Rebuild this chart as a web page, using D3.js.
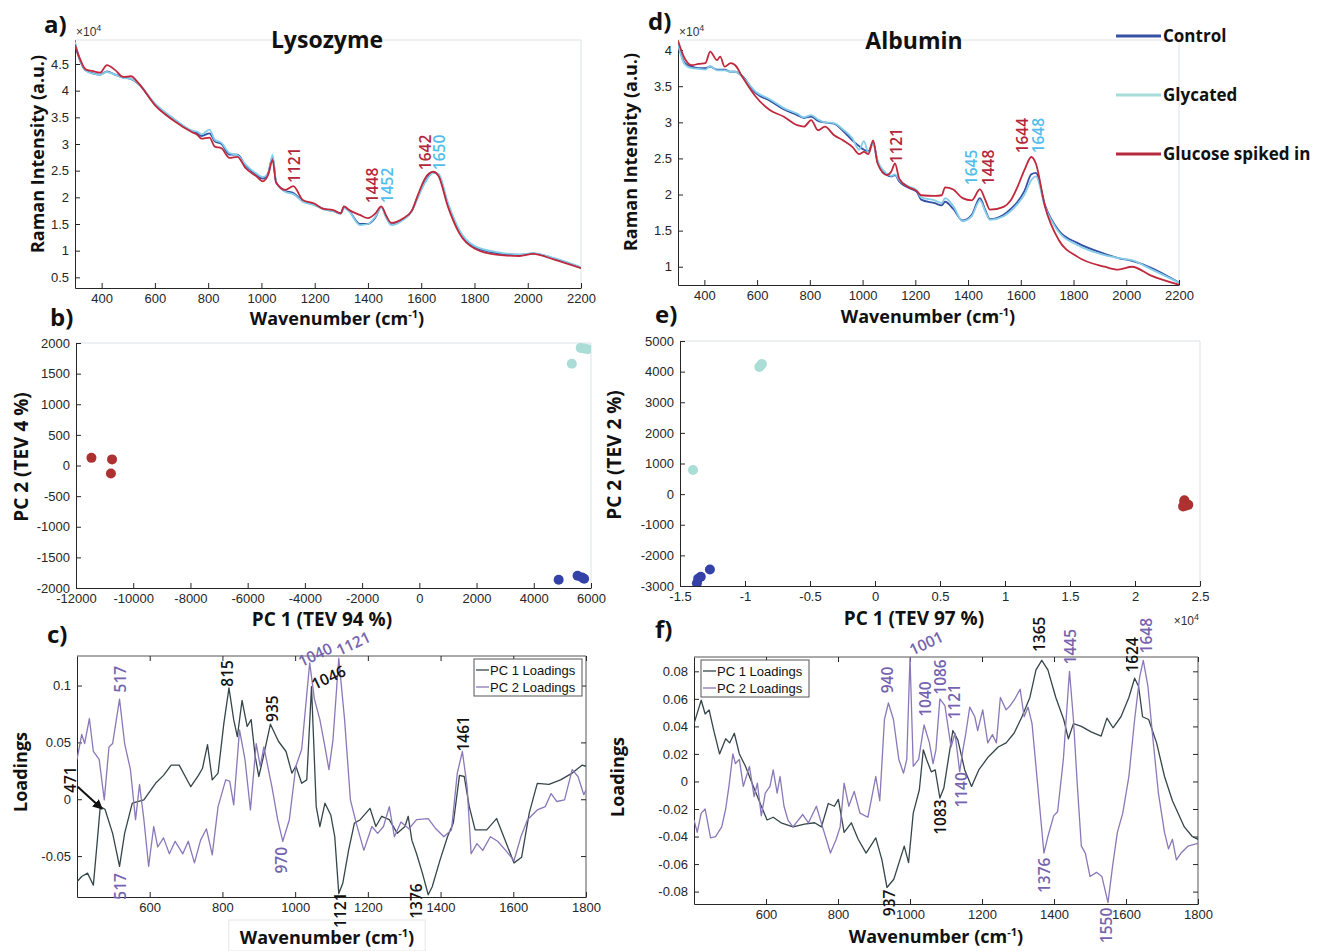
<!DOCTYPE html>
<html>
<head>
<meta charset="utf-8">
<script src="https://cdn.jsdelivr.net/npm/d3@7"></script>
<style>
body { margin: 0; background: #fff; }
svg { display: block; }
.tick text { font-family: "Liberation Sans", Arial, sans-serif; font-size: 13px; fill: #262626; }
.domain, .tick line { stroke: #262626; }
.lbl { font-family: "Open Sans", sans-serif; font-weight: bold; fill: #111; }
.peak { font-family: "Open Sans", sans-serif; font-size: 15.5px; font-weight: 600; }
.leg { font-family: "Liberation Sans", Arial, sans-serif; font-size: 13px; fill: #111; }
</style>
</head>
<body>
<div id="chart"></div>
<script>
// ---------- data ----------
var groups = ["Control", "Glycated", "Glucose spiked in"];

// a) Lysozyme spectra (x1e4)
var lysoWn = [300, 320, 340, 365, 395, 420, 450, 480, 510, 540, 600, 670, 740, 760, 775, 805, 825, 850, 880, 910,
    940, 980, 1005, 1025, 1042, 1055, 1090, 1120, 1155, 1200, 1230, 1270, 1298, 1310, 1330, 1370, 1400, 1428, 1450, 1470,
    1488, 1530, 1565, 1585, 1615, 1645, 1665, 1700, 1745, 1800, 1890, 1970, 2020, 2100, 2200];
var lysoControl = [4.86, 4.55, 4.38, 4.33, 4.30, 4.36, 4.30, 4.25, 4.22, 4.12, 3.74, 3.47, 3.24, 3.20, 3.15, 3.20, 3.05, 3.00, 2.80, 2.80,
    2.60, 2.43, 2.35, 2.45, 2.76, 2.28, 2.12, 2.08, 1.93, 1.86, 1.79, 1.74, 1.70, 1.82, 1.74, 1.50, 1.50, 1.62, 1.82, 1.62,
    1.49, 1.58, 1.75, 1.98, 2.30, 2.47, 2.42, 1.87, 1.35, 1.07, 0.95, 0.92, 0.95, 0.85, 0.68];
var lysoGlycated = [4.92, 4.56, 4.38, 4.32, 4.30, 4.35, 4.30, 4.24, 4.22, 4.12, 3.76, 3.48, 3.25, 3.23, 3.18, 3.27, 3.08, 3.02, 2.83, 2.79,
    2.62, 2.45, 2.38, 2.43, 2.80, 2.30, 2.10, 2.06, 1.92, 1.85, 1.78, 1.74, 1.69, 1.80, 1.73, 1.48, 1.50, 1.64, 1.81, 1.60,
    1.48, 1.57, 1.74, 1.97, 2.28, 2.46, 2.44, 1.90, 1.37, 1.09, 0.97, 0.93, 0.95, 0.86, 0.69];
var lysoSpiked = [4.86, 4.58, 4.40, 4.37, 4.34, 4.48, 4.39, 4.26, 4.27, 4.13, 3.73, 3.44, 3.22, 3.17, 3.10, 3.12, 2.95, 2.92, 2.74, 2.76,
    2.55, 2.40, 2.30, 2.42, 2.70, 2.28, 2.14, 2.21, 1.95, 1.88, 1.79, 1.76, 1.70, 1.83, 1.76, 1.67, 1.61, 1.70, 1.83, 1.64,
    1.52, 1.60, 1.75, 2.01, 2.36, 2.48, 2.40, 1.83, 1.31, 1.04, 0.92, 0.90, 0.94, 0.83, 0.67];

// d) Albumin spectra (x1e4)
var albWn = [300, 326, 352, 378, 404, 422, 448, 460, 477, 500, 517, 544, 596, 648, 700, 752, 778, 805, 831, 857,
    892, 926, 961, 987, 1005, 1022, 1040, 1057, 1092, 1109, 1123, 1139, 1170, 1205, 1222, 1274, 1300, 1313, 1344, 1379,
    1414, 1445, 1466, 1483, 1535, 1562, 1588, 1614, 1640, 1657, 1692, 1744, 1814, 1918, 1970, 2022, 2092, 2200];
var albControl = [4.10, 3.82, 3.77, 3.75, 3.75, 3.77, 3.73, 3.73, 3.73, 3.70, 3.70, 3.64, 3.40, 3.30, 3.18, 3.10, 3.06, 3.08, 3.02, 3.00,
    2.98, 2.88, 2.75, 2.67, 2.62, 2.60, 2.72, 2.45, 2.27, 2.25, 2.27, 2.18, 2.10, 2.04, 1.93, 1.88, 1.85, 1.90, 1.80, 1.64,
    1.72, 1.95, 1.78, 1.66, 1.72, 1.80, 1.90, 2.05, 2.28, 2.30, 1.85, 1.50, 1.33, 1.18, 1.12, 1.08, 0.99, 0.78];
var albGlycated = [4.08, 3.80, 3.75, 3.74, 3.73, 3.78, 3.72, 3.72, 3.72, 3.70, 3.70, 3.63, 3.42, 3.32, 3.20, 3.12, 3.07, 3.10, 3.04, 3.00,
    2.99, 2.90, 2.78, 2.62, 2.74, 2.58, 2.70, 2.47, 2.29, 2.26, 2.28, 2.20, 2.12, 2.06, 1.96, 1.92, 1.88, 1.95, 1.84, 1.63,
    1.70, 1.92, 1.76, 1.65, 1.70, 1.77, 1.87, 2.00, 2.20, 2.25, 1.83, 1.48, 1.30, 1.16, 1.12, 1.09, 0.97, 0.78];
var albSpiked = [4.13, 3.88, 3.79, 3.81, 3.82, 3.98, 3.86, 3.91, 3.77, 3.82, 3.79, 3.63, 3.35, 3.17, 3.08, 2.96, 2.94, 3.03, 2.89, 2.94,
    2.82, 2.75, 2.66, 2.56, 2.59, 2.56, 2.75, 2.43, 2.27, 2.32, 2.43, 2.22, 2.11, 2.05, 1.99, 1.98, 1.99, 2.10, 2.07, 1.95,
    1.92, 2.07, 1.92, 1.79, 1.83, 1.92, 2.11, 2.34, 2.52, 2.43, 1.83, 1.37, 1.14, 1.00, 0.96, 1.00, 0.88, 0.75];

// b) Lysozyme PCA scores [PC1, PC2]
var lysoScoresControl = [[4870, -1865], [5530, -1800], [5690, -1830], [5760, -1850]];
var lysoScoresGlycated = [[5330, 1660], [5640, 1920], [5760, 1910], [5880, 1900]];
var lysoScoresSpiked = [[-11460, 125], [-10740, 100], [-10780, -130]];

// e) Albumin PCA scores [PC1 (x1e4), PC2]
var albScoresControl = [[-1.27, -2460], [-1.34, -2700], [-1.36, -2760], [-1.37, -2910]];
var albScoresGlycated = [[-1.40, 790], [-0.89, 4150], [-0.87, 4250], [-0.88, 4200]];
var albScoresSpiked = [[2.38, -200], [2.38, -250], [2.39, -380], [2.41, -350], [2.37, -400]];

// c) Lysozyme loadings [wavenumber, loading]
var lysoPc1 = [[400, -0.0726], [413, -0.068], [429, -0.065], [445, -0.0756], [456, -0.036], [464, -0.0065], [477, -0.0088],
    [498, -0.030], [517, -0.059], [531, -0.030], [552, -0.0035], [584, -0.0006], [616, 0.014], [638, 0.021], [659, 0.030],
    [681, 0.030], [713, 0.011], [734, 0.021], [745, 0.027], [759, 0.048], [772, 0.017], [788, 0.023], [804, 0.067],
    [818, 0.098], [831, 0.070], [841, 0.055], [854, 0.087], [868, 0.064], [879, 0.070], [890, 0.038], [900, 0.020],
    [911, 0.035], [932, 0.066], [954, 0.051], [975, 0.042], [991, 0.023], [1002, 0.029], [1018, 0.014], [1032, 0.017],
    [1045, 0.099], [1058, -0.0065], [1068, -0.024], [1082, -0.0035], [1098, -0.0138], [1109, -0.033], [1120, -0.083],
    [1131, -0.074], [1147, -0.045], [1163, -0.021], [1179, -0.018], [1206, -0.008], [1222, -0.024], [1238, -0.015],
    [1259, -0.018], [1281, -0.030], [1302, -0.024], [1311, -0.015], [1321, -0.036], [1334, -0.048], [1350, -0.065],
    [1366, -0.084], [1377, -0.077], [1398, -0.054], [1419, -0.033], [1435, -0.021], [1452, 0.021], [1465, 0.020],
    [1479, -0.0065], [1495, -0.027], [1527, -0.027], [1554, -0.017], [1570, -0.030], [1602, -0.056], [1623, -0.051],
    [1644, -0.012], [1666, 0.014], [1698, 0.013], [1730, 0.017], [1762, 0.023], [1789, 0.030], [1800, 0.029]];
var lysoPc2 = [[400, 0.035], [413, 0.057], [421, 0.049], [434, 0.071], [445, 0.042], [461, 0.035], [475, -0.0006],
    [488, 0.046], [498, 0.049], [517, 0.088], [531, 0.049], [547, 0.026], [561, -0.018], [572, 0.013], [584, -0.018],
    [597, -0.059], [611, -0.024], [622, -0.042], [638, -0.034], [654, -0.048], [670, -0.037], [691, -0.048], [706, -0.037],
    [723, -0.056], [740, -0.036], [756, -0.026], [772, -0.049], [788, -0.0065], [809, 0.017], [820, 0.016], [831, -0.005],
    [847, 0.061], [862, 0.035], [877, -0.0094], [893, 0.049], [904, 0.029], [914, 0.046], [936, 0.011], [952, -0.018],
    [966, -0.037], [984, -0.018], [1002, 0.029], [1018, 0.044], [1040, 0.120], [1053, 0.088], [1068, 0.070], [1082, 0.046],
    [1093, 0.026], [1104, 0.052], [1120, 0.124], [1136, 0.070], [1152, -0.0006], [1168, -0.021], [1189, -0.045],
    [1211, -0.024], [1227, -0.030], [1243, -0.024], [1259, -0.0065], [1273, -0.033], [1291, -0.020], [1313, -0.026],
    [1334, -0.018], [1366, -0.017], [1387, -0.026], [1409, -0.033], [1430, -0.027], [1446, 0.023], [1460, 0.042],
    [1473, 0.011], [1484, -0.048], [1500, -0.039], [1516, -0.045], [1537, -0.033], [1557, -0.037], [1579, -0.045],
    [1602, -0.054], [1621, -0.033], [1639, -0.018], [1666, -0.0094], [1688, -0.0065], [1704, 0.005], [1720, -0.002],
    [1741, -0.0006], [1762, 0.026], [1778, 0.020], [1794, 0.004], [1800, 0.008]];

// f) Albumin loadings [wavenumber, loading]
var albPc1 = [[400, 0.042], [420, 0.059], [431, 0.049], [442, 0.052], [455, 0.037], [471, 0.020], [488, 0.031], [499, 0.028],
    [512, 0.035], [526, 0.020], [543, 0.011], [565, -0.0036], [587, -0.018], [603, -0.028], [620, -0.026], [642, -0.030],
    [675, -0.033], [707, -0.031], [735, -0.030], [754, -0.033], [773, -0.016], [790, -0.018], [801, -0.013], [817, -0.037],
    [837, -0.030], [856, -0.042], [878, -0.052], [905, -0.041], [922, -0.057], [936, -0.077], [955, -0.071], [984, -0.047],
    [996, -0.059], [1009, -0.023], [1026, -0.006], [1037, 0.023], [1046, 0.016], [1059, 0.007], [1070, 0.0084],
    [1083, -0.012], [1094, -0.0048], [1119, 0.037], [1133, 0.030], [1152, 0.0084], [1171, -0.0036], [1191, 0.0084],
    [1218, 0.018], [1245, 0.025], [1267, 0.028], [1289, 0.035], [1311, 0.047], [1333, 0.061], [1350, 0.081], [1366, 0.088],
    [1383, 0.081], [1405, 0.061], [1427, 0.045], [1440, 0.031], [1454, 0.042], [1476, 0.040], [1503, 0.036], [1531, 0.033],
    [1547, 0.046], [1564, 0.039], [1586, 0.047], [1608, 0.061], [1624, 0.075], [1635, 0.069], [1646, 0.047], [1663, 0.045],
    [1685, 0.028], [1707, 0.0036], [1729, -0.014], [1762, -0.033], [1784, -0.040], [1800, -0.042]];
var albPc2 = [[400, -0.028], [409, -0.037], [420, -0.023], [431, -0.020], [446, -0.041], [460, -0.040], [477, -0.033],
    [488, -0.020], [497, -0.0036], [508, 0.020], [515, 0.013], [526, 0.016], [537, -0.0036], [554, 0.011], [567, -0.011],
    [576, -0.0012], [587, -0.025], [598, -0.0084], [611, -0.0036], [620, 0.0084], [631, -0.0084], [639, 0.0036],
    [650, -0.018], [661, -0.028], [675, -0.033], [702, -0.024], [718, -0.030], [740, -0.018], [757, -0.033], [779, -0.052],
    [795, -0.042], [806, -0.033], [817, -0.0012], [830, -0.018], [845, -0.0072], [861, -0.023], [883, -0.026],
    [905, 0.0036], [916, -0.014], [929, 0.045], [940, 0.057], [954, 0.045], [969, 0.016], [982, 0.006], [991, 0.016],
    [1000, 0.090], [1009, 0.011], [1024, 0.016], [1039, 0.041], [1054, 0.028], [1064, 0.013], [1072, 0.023], [1083, 0.060],
    [1097, 0.055], [1114, 0.025], [1125, 0.035], [1138, 0.0072], [1147, 0.023], [1155, 0.035], [1166, 0.054], [1180, 0.047],
    [1188, 0.037], [1202, 0.052], [1216, 0.028], [1229, 0.034], [1240, 0.028], [1251, 0.061], [1267, 0.052], [1278, 0.055],
    [1289, 0.059], [1306, 0.067], [1317, 0.047], [1328, 0.054], [1339, 0.042], [1355, -0.0036], [1372, -0.052],
    [1383, -0.040], [1399, -0.025], [1410, -0.022], [1426, 0.016], [1443, 0.080], [1454, 0.045], [1465, -0.0036],
    [1476, -0.047], [1487, -0.052], [1500, -0.069], [1518, -0.066], [1533, -0.069], [1550, -0.088], [1563, -0.061],
    [1576, -0.037], [1591, -0.023], [1608, 0.0036], [1624, 0.045], [1638, 0.076], [1648, 0.088], [1661, 0.069],
    [1674, 0.033], [1690, -0.0084], [1707, -0.037], [1718, -0.049], [1729, -0.042], [1740, -0.057], [1753, -0.052],
    [1772, -0.047], [1800, -0.045]];

// peak labels: [text, wavenumber, value, series, orientation]
var lysoPeaks = [["1121", 1126, 2.27, "spiked", "up"], ["1448", 1419, 1.89, "spiked", "up"],
    ["1452", 1475, 1.89, "glycated", "up"], ["1642", 1616, 2.51, "spiked", "up"], ["1650", 1670, 2.51, "glycated", "up"]];
var albPeaks = [["1121", 1127, 2.43, "spiked", "up"], ["1645", 1415, 2.13, "glycated", "up"],
    ["1448", 1476, 2.13, "spiked", "up"], ["1644", 1605, 2.57, "spiked", "up"], ["1648", 1668, 2.57, "glycated", "up"]];
var lysoLoadPeaks = [["517", 520, 0.094, "pc2", "up"], ["517", 520, -0.065, "pc2", "down"], ["815", 815, 0.099, "pc1", "up"],
    ["935", 937, 0.068, "pc1", "up"], ["970", 964, -0.042, "pc2", "down"], ["1121", 1125, -0.082, "pc1", "down"],
    ["1376", 1333, -0.074, "pc1", "down"], ["1461", 1462, 0.042, "pc1", "up"], ["471", 381, 0.0056, "pc1", "up"],
    ["1040", 1055, 0.127, "pc2", "slant"], ["1121", 1160, 0.137, "pc2", "slant"], ["1046", 1092, 0.107, "pc1", "slant"]];
var albLoadPeaks = [["940", 939, 0.064, "pc2", "up"], ["1040", 1042, 0.047, "pc2", "up"], ["1086", 1086, 0.063, "pc2", "up"],
    ["1121", 1124, 0.045, "pc2", "up"], ["1140", 1142, -0.019, "pc2", "up"], ["1083", 1086, -0.0387, "pc1", "up"],
    ["937", 942, -0.0785, "pc1", "down"], ["1365", 1361, 0.094, "pc1", "up"], ["1445", 1446, 0.085, "pc2", "up"],
    ["1624", 1617, 0.079, "pc1", "up"], ["1648", 1658, 0.093, "pc2", "up"], ["1376", 1375, -0.0553, "pc2", "down"],
    ["1550", 1547, -0.0917, "pc2", "down"], ["1001", 1045, 0.1004, "pc2", "slant"]];
var lysoArrow = [[402, 0.011], [469, -0.0085]];

// ticks
var specXTicks = d3.range(400, 2201, 200);
var lysoYTicks = [0.5, 1, 1.5, 2, 2.5, 3, 3.5, 4, 4.5];
var albYTicks = [1, 1.5, 2, 2.5, 3, 3.5, 4];
var lysoPcaXTicks = [-12000, -10000, -8000, -6000, -4000, -2000, 0, 2000, 4000, 6000];
var lysoPcaYTicks = [-2000, -1500, -1000, -500, 0, 500, 1000, 1500, 2000];
var albPcaXTicks = [-1.5, -1, -0.5, 0, 0.5, 1, 1.5, 2, 2.5];
var albPcaYTicks = [-3000, -2000, -1000, 0, 1000, 2000, 3000, 4000, 5000];
var loadXTicks = [600, 800, 1000, 1200, 1400, 1600, 1800];
var lysoLoadYTicks = [-0.05, 0, 0.05, 0.1];
var albLoadYTicks = [-0.08, -0.06, -0.04, -0.02, 0, 0.02, 0.04, 0.06, 0.08];

// ---------- drawing ----------
var lineColor = { control: "#3550a5", glycated: "#84cde9", spiked: "#c0283c", pc1: "#34464a", pc2: "#8a78b9" };
var dotColor = { control: "#3442a8", glycated: "#a9ddd5", spiked: "#ad3130" };
var textColor = { spiked: "#b3263a", glycated: "#52bdea", pc1: "#111111", pc2: "#7663b0" };
var legendColor = ["#3550a5", "#a6dcd8", "#b52b3c"];

var svg = d3.select("#chart").append("svg")
    .attr("width", 1320)
    .attr("height", 951);

var defs = svg.append("defs");
var clipId = 0;

function panel(o) {
    var x = d3.scaleLinear().domain(o.xDomain).range([o.left, o.right]);
    var y = d3.scaleLinear().domain(o.yDomain).range([o.bottom, o.top]);
    var g = svg.append("g");
    var fmt = function (d) { return String(d); };

    // box (top + right)
    g.append("path")
        .attr("d", "M" + o.left + "," + o.top + "H" + o.right + "V" + o.bottom)
        .attr("fill", "none")
        .attr("stroke", o.dark ? "#555" : "#dde2e8");

    if (o.dark) {
        g.append("g").attr("transform", "translate(0," + o.top + ")")
            .call(d3.axisTop(x).tickValues(o.xTicks).tickFormat("").tickSizeInner(-5).tickSizeOuter(0))
            .select(".domain").remove();
        g.append("g").attr("transform", "translate(" + o.right + ",0)")
            .call(d3.axisRight(y).tickValues(o.yTicks).tickFormat("").tickSizeInner(-5).tickSizeOuter(0))
            .select(".domain").remove();
    }

    g.append("g").attr("transform", "translate(0," + o.bottom + ")")
        .call(d3.axisBottom(x).tickValues(o.xTicks).tickFormat(fmt).tickSizeInner(-5).tickSizeOuter(0).tickPadding(6));
    g.append("g").attr("transform", "translate(" + o.left + ",0)")
        .call(d3.axisLeft(y).tickValues(o.yTicks).tickFormat(fmt).tickSizeInner(-5).tickSizeOuter(0).tickPadding(6));

    clipId++;
    defs.append("clipPath").attr("id", "clip" + clipId)
        .append("rect")
        .attr("x", o.left).attr("y", o.top)
        .attr("width", o.right - o.left).attr("height", o.bottom - o.top);

    var plot = g.append("g").attr("clip-path", "url(#clip" + clipId + ")");
    return { g: g, plot: plot, x: x, y: y };
}

function spectrum(p, wn, vals, key) {
    var line = d3.line()
        .x(function (d, i) { return p.x(wn[i]); })
        .y(function (d) { return p.y(d); })
        .curve(d3.curveMonotoneX);
    p.plot.append("path")
        .attr("d", line(vals))
        .attr("fill", "none")
        .attr("stroke", lineColor[key])
        .attr("stroke-width", 1.8);
}

function loading(p, pts, key) {
    var line = d3.line()
        .x(function (d) { return p.x(d[0]); })
        .y(function (d) { return p.y(d[1]); });
    p.plot.append("path")
        .attr("d", line(pts))
        .attr("fill", "none")
        .attr("stroke", lineColor[key])
        .attr("stroke-width", 1.3)
        .attr("stroke-linejoin", "round");
}

function dots(p, pts, key) {
    p.plot.selectAll(null)
        .data(pts)
        .enter().append("circle")
        .attr("cx", function (d) { return p.x(d[0]); })
        .attr("cy", function (d) { return p.y(d[1]); })
        .attr("r", 5)
        .attr("fill", dotColor[key]);
}

function peaks(p, labels) {
    p.g.selectAll(null)
        .data(labels)
        .enter().append("text")
        .attr("class", "peak")
        .attr("fill", function (d) { return textColor[d[3]]; })
        .attr("text-anchor", function (d) {
            return d[4] == "up" ? "start" : (d[4] == "down" ? "end" : "middle");
        })
        .attr("dy", "0.35em")
        .attr("transform", function (d) {
            var r = d[4] == "slant" ? -25 : -90;
            return "translate(" + p.x(d[1]) + "," + p.y(d[2]) + ") rotate(" + r + ")";
        })
        .text(function (d) { return d[0]; });
}

function label(t, x, y, size) {
    return svg.append("text").attr("class", "lbl")
        .attr("x", x).attr("y", y)
        .style("font-size", size + "px")
        .text(t);
}

function wavenumberTitle(x, y) {
    var t = svg.append("text").attr("class", "lbl")
        .attr("x", x).attr("y", y)
        .attr("text-anchor", "middle")
        .style("font-size", "18px");
    t.append("tspan").text("Wavenumber (cm");
    t.append("tspan").attr("dy", -7).style("font-size", "11px").text("-1");
    t.append("tspan").attr("dy", 7).text(")");
    return t;
}

function yTitle(t, x, y, size) {
    svg.append("text").attr("class", "lbl")
        .attr("text-anchor", "middle")
        .attr("dy", "0.35em")
        .attr("transform", "translate(" + x + "," + y + ") rotate(-90)")
        .style("font-size", size + "px")
        .text(t);
}

function exponent(x, y, anchor) {
    var t = svg.append("text")
        .attr("x", x).attr("y", y)
        .attr("text-anchor", anchor)
        .style("font-family", "'Liberation Sans', Arial, sans-serif")
        .style("font-size", "12px")
        .attr("fill", "#333");
    t.append("tspan").text("\u00d710");
    t.append("tspan").attr("dy", -5).style("font-size", "9px").text("4");
}

// a) Lysozyme spectra
var pa = panel({ left: 75, right: 581, top: 40, bottom: 288, xDomain: [300, 2200], yDomain: [0.30, 4.95],
    xTicks: specXTicks, yTicks: lysoYTicks });
spectrum(pa, lysoWn, lysoControl, "control");
spectrum(pa, lysoWn, lysoGlycated, "glycated");
spectrum(pa, lysoWn, lysoSpiked, "spiked");
peaks(pa, lysoPeaks);
label("a)", 44, 33, 24);
label("Lysozyme", 327, 48, 23).attr("text-anchor", "middle");
exponent(76, 36, "start");
yTitle("Raman Intensity (a.u.)", 38, 154, 18);
wavenumberTitle(337, 325);

// d) Albumin spectra
var pd = panel({ left: 678, right: 1179, top: 40, bottom: 285, xDomain: [300, 2200], yDomain: [0.747, 4.14],
    xTicks: specXTicks, yTicks: albYTicks });
spectrum(pd, albWn, albControl, "control");
spectrum(pd, albWn, albGlycated, "glycated");
spectrum(pd, albWn, albSpiked, "spiked");
peaks(pd, albPeaks);
label("d)", 648, 30, 24);
label("Albumin", 914, 49, 23).attr("text-anchor", "middle");
exponent(679, 36, "start");
yTitle("Raman Intensity (a.u.)", 631, 152, 18);
wavenumberTitle(928, 323);

// legend for spectra
var legY = d3.scalePoint().domain(groups).range([36, 154]);
var leg = svg.append("g");
leg.selectAll("line").data(groups).enter().append("line")
    .attr("x1", 1116).attr("x2", 1161)
    .attr("y1", function (d) { return legY(d); })
    .attr("y2", function (d) { return legY(d); })
    .attr("stroke", function (d, i) { return legendColor[i]; })
    .attr("stroke-width", 3);
leg.selectAll("text").data(groups).enter().append("text")
    .attr("class", "lbl")
    .attr("x", 1163)
    .attr("y", function (d) { return legY(d); })
    .attr("dy", "0.35em")
    .style("font-size", "17px")
    .text(function (d) { return d; });

// b) Lysozyme PCA
var pb = panel({ left: 76, right: 591, top: 343, bottom: 588, xDomain: [-12000, 6000], yDomain: [-2000, 2000],
    xTicks: lysoPcaXTicks, yTicks: lysoPcaYTicks });
dots(pb, lysoScoresSpiked, "spiked");
dots(pb, lysoScoresGlycated, "glycated");
dots(pb, lysoScoresControl, "control");
label("b)", 50, 326, 24);
yTitle("PC 2 (TEV 4 %)", 21, 457, 19);
label("PC 1 (TEV 94 %)", 322, 626, 19).attr("text-anchor", "middle");

// e) Albumin PCA
var pe = panel({ left: 680, right: 1200, top: 341, bottom: 586, xDomain: [-1.5, 2.5], yDomain: [-3000, 5000],
    xTicks: albPcaXTicks, yTicks: albPcaYTicks });
dots(pe, albScoresSpiked, "spiked");
dots(pe, albScoresGlycated, "glycated");
dots(pe, albScoresControl, "control");
label("e)", 655, 323, 24);
yTitle("PC 2 (TEV 2 %)", 614, 455, 19);
label("PC 1 (TEV 97 %)", 914, 625, 19).attr("text-anchor", "middle");
exponent(1199, 625, "end");

// c) Lysozyme loadings (white box behind its x title sits under everything else)
var cBox = svg.append("rect");
var pc = panel({ left: 77, right: 586, top: 656, bottom: 897, xDomain: [400, 1800], yDomain: [-0.086, 0.126],
    xTicks: loadXTicks, yTicks: lysoLoadYTicks, dark: true });
loading(pc, lysoPc1, "pc1");
loading(pc, lysoPc2, "pc2");
peaks(pc, lysoLoadPeaks);
defs.append("marker")
    .attr("id", "arrow").attr("viewBox", "0 0 10 10")
    .attr("refX", 9).attr("refY", 5)
    .attr("markerWidth", 5).attr("markerHeight", 5)
    .attr("orient", "auto")
    .append("path").attr("d", "M0,0L10,5L0,10z").attr("fill", "#111");
pc.g.append("line")
    .attr("x1", pc.x(lysoArrow[0][0])).attr("y1", pc.y(lysoArrow[0][1]))
    .attr("x2", pc.x(lysoArrow[1][0])).attr("y2", pc.y(lysoArrow[1][1]))
    .attr("stroke", "#111").attr("stroke-width", 2)
    .attr("marker-end", "url(#arrow)");
label("c)", 47, 643, 24);
yTitle("Loadings", 21, 772, 18);
var cTitle = wavenumberTitle(327, 944);
var bb = cTitle.node().getBBox();
cBox.attr("x", bb.x - 11).attr("y", bb.y - 5)
    .attr("width", bb.width + 22).attr("height", 951 - bb.y + 5)
    .attr("fill", "#fff").attr("stroke", "#e6e6e6");

// f) Albumin loadings
var pf = panel({ left: 694, right: 1198, top: 657, bottom: 904, xDomain: [400, 1800], yDomain: [-0.089, 0.0904],
    xTicks: loadXTicks, yTicks: albLoadYTicks, dark: true });
loading(pf, albPc1, "pc1");
loading(pf, albPc2, "pc2");
peaks(pf, albLoadPeaks);
label("f)", 655, 638, 24);
yTitle("Loadings", 618, 777, 18);
wavenumberTitle(936, 943);

// loadings legends
function loadLegend(x0, y0) {
    var names = ["PC 1 Loadings", "PC 2 Loadings"];
    var ly = d3.scalePoint().domain(names).range([y0 + 11, y0 + 28]);
    var lg = svg.append("g");
    lg.append("rect").attr("x", x0).attr("y", y0).attr("width", 108).attr("height", 37)
        .attr("fill", "#fff").attr("stroke", "#555");
    lg.selectAll("line").data(names).enter().append("line")
        .attr("x1", x0 + 2).attr("x2", x0 + 15)
        .attr("y1", function (d) { return ly(d); }).attr("y2", function (d) { return ly(d); })
        .attr("stroke", function (d, i) { return i ? lineColor.pc2 : lineColor.pc1; })
        .attr("stroke-width", 1.3);
    lg.selectAll("text").data(names).enter().append("text")
        .attr("class", "leg")
        .attr("x", x0 + 16).attr("y", function (d) { return ly(d); })
        .attr("dy", "0.35em")
        .text(function (d) { return d; });
}
loadLegend(474, 659);
loadLegend(701, 660);
</script>
</body>
</html>
